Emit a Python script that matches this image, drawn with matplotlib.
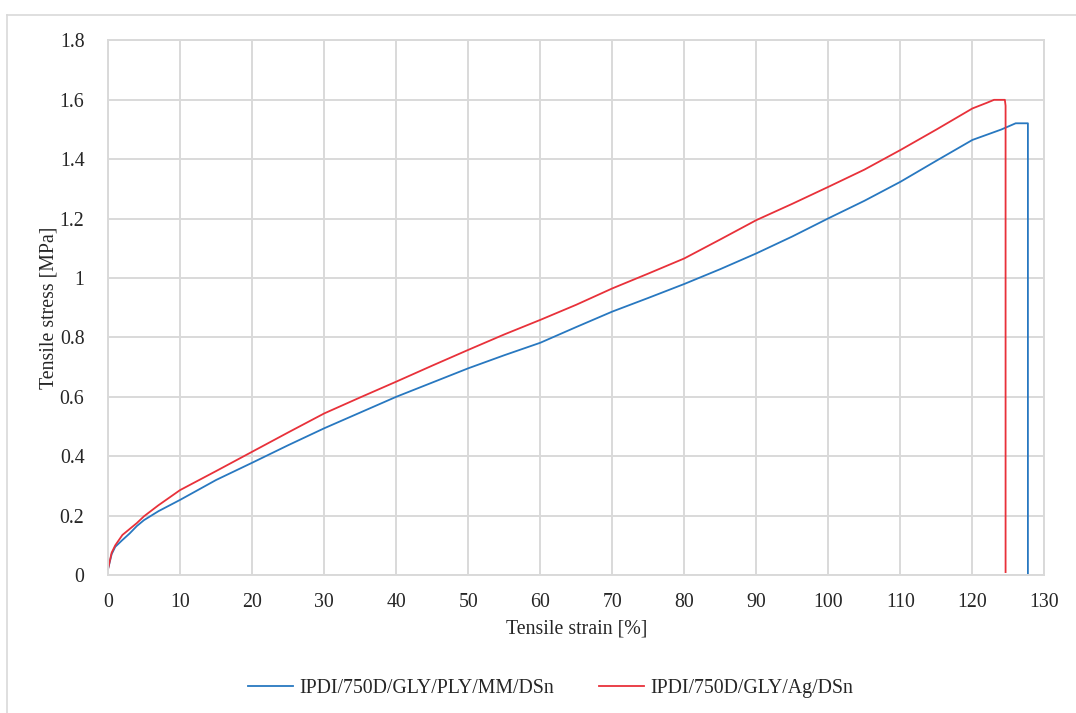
import matplotlib.pyplot as plt
from matplotlib.lines import Line2D

plt.rcParams["font.family"] = ["Liberation Serif", "DejaVu Serif"]

# values
blue_label = "IPDI/750D/GLY/PLY/MM/DSn"
blue_strain = [0, 0.5, 1, 2, 3, 4, 5, 7, 10, 15, 20, 25, 30, 35, 40, 45, 50, 55,
               60, 65, 70, 75, 80, 85, 90, 95, 100, 105, 110, 115, 120, 124, 126,
               127.7, 127.7]
blue_stress = [0.02, 0.07, 0.095, 0.118, 0.14, 0.165, 0.185, 0.215, 0.253, 0.32,
               0.378, 0.437, 0.494, 0.547, 0.600, 0.648, 0.696, 0.74, 0.782, 0.835,
               0.887, 0.933, 0.98, 1.03, 1.083, 1.14, 1.201, 1.26, 1.324, 1.395,
               1.465, 1.5, 1.521, 1.521, 0.0]

red_label = "IPDI/750D/GLY/Ag/DSn"
red_strain = [0, 0.5, 1, 2, 3, 4, 5, 7, 10, 15, 20, 25, 30, 35, 40, 45, 50, 55,
              60, 65, 70, 75, 80, 85, 90, 95, 100, 105, 110, 115, 120, 122, 123,
              124.2, 124.5, 124.6, 124.6]
red_stress = [0.02, 0.075, 0.1, 0.135, 0.155, 0.175, 0.198, 0.235, 0.286, 0.35,
              0.415, 0.48, 0.544, 0.598, 0.651, 0.705, 0.758, 0.81, 0.859, 0.91,
              0.965, 1.015, 1.066, 1.13, 1.195, 1.25, 1.307, 1.365, 1.431, 1.5,
              1.571, 1.59, 1.6, 1.6, 1.6, 1.58, 0.01]

x_ticks = list(range(0, 131, 10))
y_ticks = [0, 0.2, 0.4, 0.6, 0.8, 1, 1.2, 1.4, 1.6, 1.8]
y_tick_labels = ["0", "0.2", "0.4", "0.6", "0.8", "1", "1.2", "1.4", "1.6", "1.8"]

grid_col = "#d9d9d9"
text_col = "#262626"
fs = 14.3

fig = plt.figure(figsize=(10.76, 7.13), dpi=100)
ax = fig.add_axes([0.1004, 0.1935, 0.8703, 0.7498])

ax.plot(blue_strain, blue_stress, color="#2878c0", lw=1.3, label=blue_label, clip_on=False)
ax.plot(red_strain, red_stress, color="#e8313a", lw=1.3, label=red_label, clip_on=False)

ax.set_xlim(0, 130)
ax.set_ylim(0, 1.8)
ax.set_xticks(x_ticks)
ax.set_yticks(y_ticks)
ax.set_yticklabels(y_tick_labels)
ax.tick_params(length=0, labelsize=fs, colors=text_col)
ax.tick_params(axis="x", pad=13)
ax.tick_params(axis="y", pad=17)
ax.grid(True, color=grid_col, lw=1.4)
ax.set_axisbelow(True)
for s in ax.spines.values():
    s.set_color(grid_col)
    s.set_linewidth(1.4)

ax.set_xlabel("Tensile strain [%]", fontsize=fs, color=text_col, labelpad=5)
ax.set_ylabel("Tensile stress [MPa]", fontsize=fs, color=text_col)
ax.yaxis.set_label_coords(-0.053, 0.5)

ax.legend(loc="center", bbox_to_anchor=(0.5116, 0.035), bbox_transform=fig.transFigure,
          ncol=2, frameon=False, fontsize=fs, handlelength=2.26, handletextpad=0.3,
          columnspacing=2.3, labelcolor=text_col)

# outer chart border (only top and left visible in the reference)
fig.add_artist(Line2D([7 / 1076, 7 / 1076], [0, 1 - 15 / 713], color=grid_col, lw=1.2))
fig.add_artist(Line2D([7 / 1076, 1], [1 - 15 / 713, 1 - 15 / 713], color=grid_col, lw=1.2))

fig.savefig("out.png", dpi=100)
